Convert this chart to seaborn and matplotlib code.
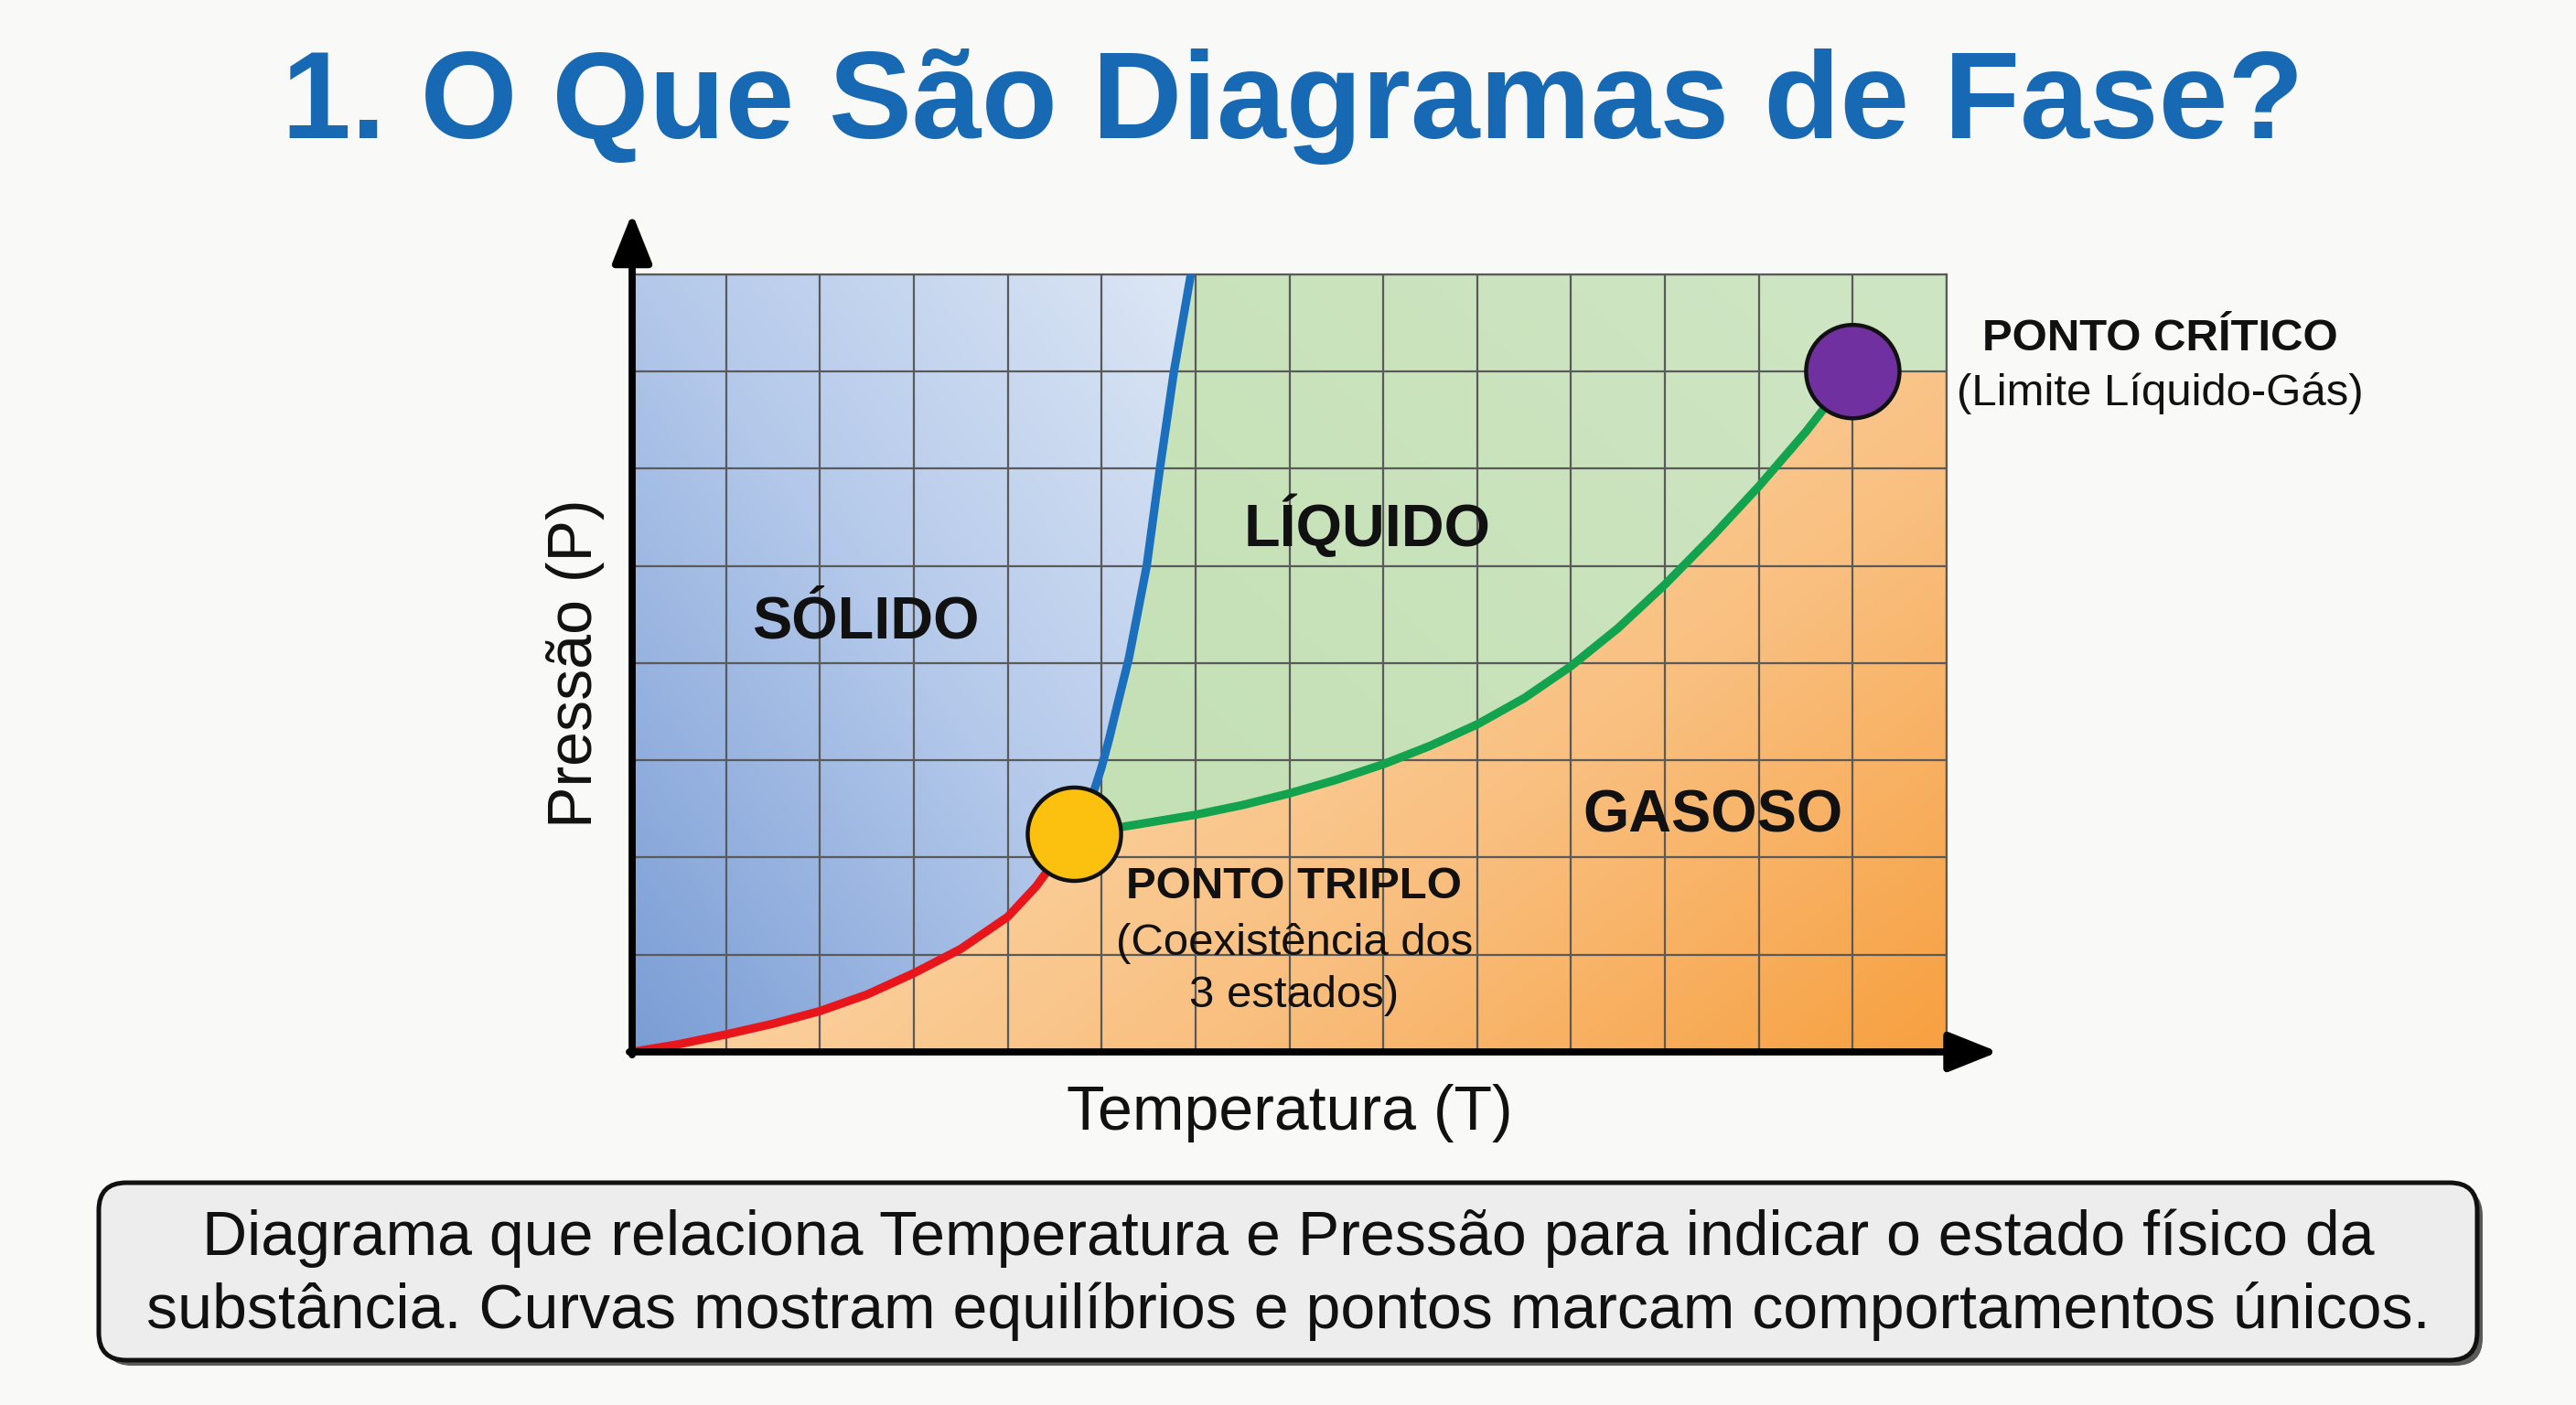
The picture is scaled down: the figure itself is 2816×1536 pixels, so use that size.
import numpy as np
import pandas as pd
import matplotlib.pyplot as plt
import seaborn as sns
from matplotlib.patches import Polygon, FancyBboxPatch
from matplotlib.colors import LinearSegmentedColormap

# Curves (T on 0..14 grid, P on 0..8 grid)
sub_T = [0.0, 0.5, 1.0, 1.5, 2.0, 2.5, 3.0, 3.5, 4.0, 4.3, 4.71]
sub_P = [0.0, 0.08, 0.18, 0.29, 0.42, 0.59, 0.81, 1.06, 1.39, 1.70, 2.24]

fus_T = [4.71, 4.85, 4.92, 5.00, 5.08, 5.18, 5.29, 5.48, 5.62, 5.77, 5.95]
fus_P = [2.24, 2.52, 2.69, 2.93, 3.22, 3.62, 4.05, 5.00, 6.00, 7.00, 8.00]

vap_T = [4.71, 5.0, 5.5, 6.0, 6.5, 7.0, 7.5, 8.0, 8.5, 9.0, 9.5, 10.0, 10.5, 11.0, 11.5,
         12.0, 12.5, 13.0]
vap_P = [2.24, 2.28, 2.36, 2.44, 2.54, 2.66, 2.80, 2.96, 3.15, 3.37, 3.64, 3.97, 4.36, 4.81,
         5.30, 5.82, 6.38, 7.0]

triple = (4.71, 2.24)
critical = (13.0, 7.0)

title = "1. O Que São Diagramas de Fase?"
caption = ["Diagrama que relaciona Temperatura e Pressão para indicar o estado físico da",
           "substância. Curvas mostram equilíbrios e pontos marcam comportamentos únicos."]

sns.set_theme(style="white")
plt.rcParams['font.family'] = ['Liberation Sans', 'DejaVu Sans']

W, H = 2816, 1536
fig = plt.figure(figsize=(W / 200, H / 200), dpi=200)
fig.patch.set_facecolor('#f9f9f7')

# background overlay in pixel units for the caption box
bg = fig.add_axes([0, 0, 1, 1])
bg.set_xlim(0, W)
bg.set_ylim(0, H)
bg.axis('off')
shadow = FancyBboxPatch((114, 43), 2600, 194, boxstyle='round,pad=0,rounding_size=30',
                        fc='#333333', ec='none', alpha=0.8)
box = FancyBboxPatch((108, 49), 2600, 194, boxstyle='round,pad=0,rounding_size=30',
                     fc='#ededed', ec='#111111', lw=1.8)
bg.add_patch(shadow)
bg.add_patch(box)
bg.text(W / 2, 182, caption[0], ha='center', va='center', fontsize=24.5, color='#111111')
bg.text(W / 2, 102, caption[1], ha='center', va='center', fontsize=24.5, color='#111111')

fig.text(0.502, 0.924, title, ha='center', va='center', fontsize=49,
         fontweight='bold', color='#1869b4')

ax = fig.add_axes([0.2454, 0.2513, 0.5103, 0.5534])
ax.set_xlim(0, 14)
ax.set_ylim(0, 8)

# region polygons
solid_poly = ([(0, 0), (0, 8)] + list(zip(fus_T[::-1], fus_P[::-1]))
              + list(zip(sub_T[::-1], sub_P[::-1])))
liquid_poly = (list(zip(fus_T, fus_P)) + [(14, 8), (14, critical[1])]
               + list(zip(vap_T[::-1], vap_P[::-1])))
gas_poly = (list(zip(sub_T, sub_P)) + list(zip(vap_T, vap_P))
            + [(14, critical[1]), (14, 0)])

gx, gy = np.meshgrid(np.linspace(0, 14, 300), np.linspace(0, 8, 200))


def shaded(poly, field, colors):
    cmap = LinearSegmentedColormap.from_list('g', colors)
    patch = Polygon(poly, closed=True, fc='none', ec='none')
    ax.add_patch(patch)
    im = ax.imshow(field, cmap=cmap, origin='lower', extent=(0, 14, 0, 8),
                   aspect='auto', vmin=0, vmax=1, zorder=0, interpolation='bilinear')
    im.set_clip_path(patch)


shaded(solid_poly, np.clip(gx / 6 * 0.5 + gy / 8 * 0.5, 0, 1), ['#7a9dd5', '#b3c8ea', '#dde7f5'])
shaded(liquid_poly, np.clip((gx - 5) / 9 * 0.5 + gy / 8 * 0.5, 0, 1), ['#c2dfb2', '#cfe6c4'])
shaded(gas_poly, np.clip(gx / 14 * 0.6 + (1 - gy / 7) * 0.4, 0, 1),
       ['#fde8cc', '#fbd6a8', '#f9bf7f', '#f7a040'])

# grid
ax.set_xticks(range(15))
ax.set_yticks(range(9))
ax.tick_params(left=False, bottom=False, labelleft=False, labelbottom=False)
ax.grid(True, color='#5a5a5a', lw=0.8, zorder=1)
ax.set_axisbelow(False)
for s in ['top', 'right']:
    ax.spines[s].set_color('#5a5a5a')
    ax.spines[s].set_linewidth(0.8)
for s in ['left', 'bottom']:
    ax.spines[s].set_visible(False)

# curves
sns.lineplot(x=sub_T, y=sub_P, ax=ax, color='#e8161b', lw=3.3, sort=False, zorder=4,
             solid_capstyle='round')
sns.lineplot(x=fus_T, y=fus_P, ax=ax, color='#1c6fbd', lw=3.3, sort=False, zorder=4,
             solid_capstyle='round', solid_joinstyle='round')
sns.lineplot(x=vap_T, y=vap_P, ax=ax, color='#13a24e', lw=3.3, sort=False, zorder=4,
             solid_capstyle='round')

pts = pd.DataFrame({'T': [triple[0], critical[0]], 'P': [triple[1], critical[1]],
                    'kind': ['triplo', 'critico']})
sns.scatterplot(data=pts, x='T', y='P', hue='kind', palette=['#fcc10e', '#7030a0'],
                s=1350, edgecolor='#111111', linewidth=1.6, ax=ax, zorder=6, legend=False,
                clip_on=False)

# axis arrows
arrow = dict(arrowstyle='-|>,head_length=0.75,head_width=0.3', lw=2.8, color='black',
             shrinkA=0, shrinkB=0, mutation_scale=22)
ax.annotate('', xy=(0, 8.63), xytext=(0, -0.03), arrowprops=arrow, annotation_clip=False, zorder=5)
ax.annotate('', xy=(14.55, 0), xytext=(-0.03, 0), arrowprops=arrow, annotation_clip=False, zorder=5)

# labels
big = dict(ha='center', va='center', fontsize=23.3, fontweight='bold', color='#111111', zorder=7)
ax.text(2.49, 4.42, 'SÓLIDO', **big)
ax.text(7.83, 5.41, 'LÍQUIDO', **big)
ax.text(11.51, 2.42, 'GASOSO', **big)

ax.text(7.05, 1.70, 'PONTO TRIPLO', ha='center', va='center', fontsize=17.7,
        fontweight='bold', color='#111111', zorder=7)
ax.text(7.05, 1.12, '(Coexistência dos', ha='center', va='center', fontsize=17.7,
        color='#111111', zorder=7)
ax.text(7.05, 0.58, '3 estados)', ha='center', va='center', fontsize=17.7,
        color='#111111', zorder=7)

ax.text(16.27, 7.34, 'PONTO CRÍTICO', ha='center', va='center', fontsize=17.7,
        fontweight='bold', color='#111111', clip_on=False)
ax.text(16.27, 6.78, '(Limite Líquido-Gás)', ha='center', va='center', fontsize=17.7,
        color='#111111', clip_on=False)

ax.text(7.0, -0.63, 'Temperatura (T)', ha='center', va='center', fontsize=24.5, color='#111111')
ax.text(-0.60, 4.0, 'Pressão (P)', ha='center', va='center', fontsize=24.5, rotation=90,
        color='#111111')

fig.savefig('out.png', dpi=200, facecolor=fig.get_facecolor())
